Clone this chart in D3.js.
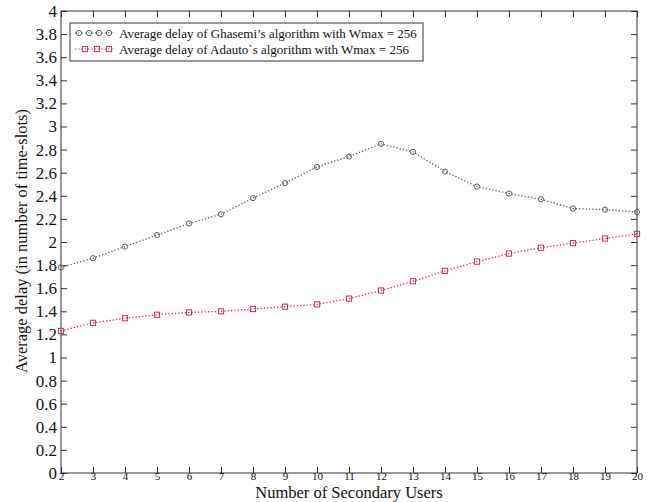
<!DOCTYPE html>
<html>
<head>
<meta charset="utf-8">
<script src="https://cdn.jsdelivr.net/npm/d3@7"></script>
<style>
  html, body { margin: 0; padding: 0; background: #fff; }
  svg { display: block; }
  svg text { font-family: "Liberation Serif", "Times New Roman", Times, serif !important; fill: #111; }
</style>
</head>
<body>
<svg id="chart" width="652" height="502"></svg>
<script>
// Number of secondary users on the x axis
const users = [2, 3, 4, 5, 6, 7, 8, 9, 10, 11, 12, 13, 14, 15, 16, 17, 18, 19, 20];
// Average delay (time-slots), Ghasemi's algorithm, Wmax = 256
const ghasemiDelay = [1.78, 1.86, 1.96, 2.06, 2.16, 2.24, 2.38, 2.51, 2.65, 2.74, 2.85, 2.78, 2.61, 2.48, 2.42, 2.37, 2.29, 2.28, 2.26];
// Average delay (time-slots), Adauto's algorithm, Wmax = 256
const adautoDelay = [1.23, 1.30, 1.34, 1.37, 1.39, 1.40, 1.42, 1.44, 1.46, 1.51, 1.58, 1.66, 1.75, 1.83, 1.90, 1.95, 1.99, 2.03, 2.07];
const yTicks = [0, 0.2, 0.4, 0.6, 0.8, 1, 1.2, 1.4, 1.6, 1.8, 2, 2.2, 2.4, 2.6, 2.8, 3, 3.2, 3.4, 3.6, 3.8, 4];
const legendLabels = [
  "Average delay of Ghasemi\u2019s algorithm with Wmax = 256",
  "Average delay of Adauto`s algorithm with Wmax = 256"
];

const serif = '"Liberation Serif", "Times New Roman", Times, serif';
const svg = d3.select("#chart").style("font-family", serif);
const L = 61, R = 637, T = 11, B = 473;

const x = d3.scaleLinear().domain([2, 20]).range([L, R]);
const y = d3.scaleLinear().domain([0, 4]).range([B, T]);

const axisColor = "#333";
const tickLen = 6;

// plot frame
svg.append("rect")
  .attr("x", L).attr("y", T).attr("width", R - L).attr("height", B - T)
  .attr("fill", "none").attr("stroke", axisColor).attr("stroke-width", 1);

// inward ticks on all four sides, labels on left and bottom
const axLeft = svg.append("g").attr("transform", `translate(${L},0)`)
  .call(d3.axisLeft(y).tickValues(yTicks).tickSize(-tickLen).tickPadding(4).tickFormat(d3.format("~g")));
const axRight = svg.append("g").attr("transform", `translate(${R},0)`)
  .call(d3.axisRight(y).tickValues(yTicks).tickSize(-tickLen).tickFormat(""));
const axBottom = svg.append("g").attr("transform", `translate(0,${B})`)
  .call(d3.axisBottom(x).tickValues(users).tickSize(-tickLen).tickPadding(0).tickFormat(d3.format("d")));
const axTop = svg.append("g").attr("transform", `translate(0,${T})`)
  .call(d3.axisTop(x).tickValues(users).tickSize(-tickLen).tickFormat(""));

[axLeft, axRight, axBottom, axTop].forEach(g => {
  g.attr("font-family", serif);
  g.select(".domain").remove();
  g.selectAll(".tick line").attr("stroke", axisColor);
});
axLeft.selectAll(".tick text")
  .style("font-family", serif).attr("font-size", 17).attr("fill", "#111");
axBottom.selectAll(".tick text")
  .style("font-family", serif).attr("font-size", 11).attr("fill", "#111")
  .attr("y", 0).attr("dy", "0.6em");

// axis titles
svg.append("text")
  .attr("x", (L + R) / 2).attr("y", 497.5)
  .attr("text-anchor", "middle").attr("font-size", 16.5)
  .text("Number of Secondary Users");
svg.append("text")
  .attr("transform", "translate(27,241) rotate(-90)")
  .attr("text-anchor", "middle").attr("font-size", 16.5)
  .text("Average delay (in number of time-slots)");

// series
const series = [
  { values: ghasemiDelay, color: "#5e5e5e", marker: "circle", label: legendLabels[0] },
  { values: adautoDelay, color: "#c8305a", marker: "square", label: legendLabels[1] }
];

const line = d3.line().x(d => x(d[0])).y(d => y(d[1]));

function drawMarker(g, cx, cy, s) {
  if (s.marker === "circle") {
    g.append("circle").attr("cx", cx).attr("cy", cy).attr("r", 2.6)
      .attr("fill", "none").attr("stroke", s.color).attr("stroke-width", 1);
  } else {
    g.append("rect").attr("x", cx - 2.6).attr("y", cy - 2.6).attr("width", 5.2).attr("height", 5.2)
      .attr("fill", "none").attr("stroke", s.color).attr("stroke-width", 1);
  }
}

series.forEach(s => {
  const pts = users.map((u, i) => [u, s.values[i]]);
  const g = svg.append("g");
  g.append("path").attr("d", line(pts))
    .attr("fill", "none").attr("stroke", s.color).attr("stroke-width", 1.3)
    .attr("stroke-dasharray", "1.3,2");
  pts.forEach(p => drawMarker(g, x(p[0]), y(p[1]), s));
});

// legend
const lg = svg.append("g");
lg.append("rect").attr("x", 70).attr("y", 23).attr("width", 353).attr("height", 38)
  .attr("fill", "#fff").attr("stroke", axisColor).attr("stroke-width", 1);
series.forEach((s, i) => {
  const cy = 33 + i * 16;
  lg.append("line").attr("x1", 75).attr("x2", 115).attr("y1", cy).attr("y2", cy)
    .attr("stroke", s.color).attr("stroke-width", 1.2).attr("stroke-dasharray", "1.3,2");
  const n = i === 0 ? 4 : 3;
  for (let k = 0; k < n; k++) {
    const cx = i === 0 ? 79 + k * 10 : 85 + k * 12;
    drawMarker(lg, cx, cy, s);
  }
  lg.append("text").attr("x", 119).attr("y", cy + 4.5)
    .attr("font-size", 13).text(s.label);
});
</script>
</body>
</html>
